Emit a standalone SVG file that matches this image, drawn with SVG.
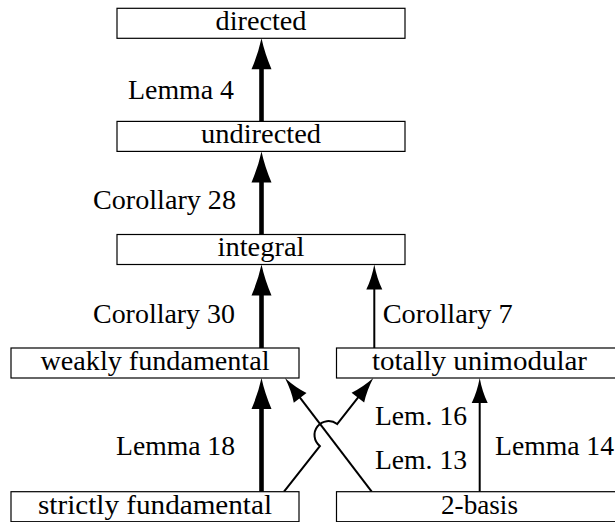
<svg xmlns="http://www.w3.org/2000/svg" width="615" height="522" viewBox="0 0 615 522">
  <style>
    .box { fill: #ffffff; stroke: #000000; stroke-width: 1.2; }
    .t { font-family: "Liberation Serif", "Times New Roman", serif; font-size: 27px; fill: #000000; }
    .c { text-anchor: middle; }
    .thick { fill: none; stroke: #000000; stroke-width: 4.6; marker-end: url(#headThick); }
    .thin { fill: none; stroke: #000000; stroke-width: 2; marker-end: url(#headThin); }
  </style>
  <defs>
    <marker id="headThick" markerUnits="userSpaceOnUse" orient="auto" refX="0" refY="0" markerWidth="40" markerHeight="30" overflow="visible">
      <path d="M10,0 Q-5,3.2 -21,10 L-21,-10 Q-5,-3.2 10,0 Z" fill="#000000"/>
    </marker>
    <marker id="headThin" markerUnits="userSpaceOnUse" orient="auto" refX="0" refY="0" markerWidth="34" markerHeight="24" overflow="visible">
      <path d="M8,0 Q-6,2.6 -17,8 L-17,-8 Q-6,-2.6 8,0 Z" fill="#000000"/>
    </marker>
  </defs>

  <g id="connectors">
    <line class="thick" x1="261.5" y1="121.4" x2="261.5" y2="48.3"/>
    <line class="thick" x1="261.5" y1="234.5" x2="261.5" y2="161.4"/>
    <line class="thick" x1="261.5" y1="348" x2="261.5" y2="274.5"/>
    <line class="thick" x1="261.5" y1="491.7" x2="261.5" y2="388"/>
    <line class="thin" x1="374.3" y1="348" x2="374.3" y2="272.5"/>
    <line class="thin" x1="479.7" y1="491.7" x2="479.7" y2="386"/>
    <path class="thin" d="M371.7,491.7 L289.85,384.36"/>
    <path class="thin" d="M284,491.7 L319.85,446.06 A14,14 0 0 1 337.15,424.04 L368.36,384.29"/>
  </g>

  <g id="labels">
    <text class="t" x="128" y="99.3" textLength="106" lengthAdjust="spacingAndGlyphs">Lemma 4</text>
    <text class="t" x="93" y="209.3" textLength="143" lengthAdjust="spacingAndGlyphs">Corollary 28</text>
    <text class="t" x="93" y="323.3" textLength="142" lengthAdjust="spacingAndGlyphs">Corollary 30</text>
    <text class="t" x="382.7" y="323.3" textLength="130" lengthAdjust="spacingAndGlyphs">Corollary 7</text>
    <text class="t" x="116" y="455" textLength="119" lengthAdjust="spacingAndGlyphs">Lemma 18</text>
    <text class="t" x="375" y="425" textLength="92" lengthAdjust="spacingAndGlyphs">Lem. 16</text>
    <text class="t" x="375" y="468.5" textLength="92" lengthAdjust="spacingAndGlyphs">Lem. 13</text>
    <text class="t" x="495" y="455" textLength="119" lengthAdjust="spacingAndGlyphs">Lemma 14</text>
  </g>

  <g id="directed">
    <rect class="box" x="117" y="8.3" width="288" height="30"/>
    <text class="t c" x="261" y="30" textLength="91" lengthAdjust="spacingAndGlyphs">directed</text>
  </g>
  <g id="undirected">
    <rect class="box" x="117" y="121.4" width="288" height="30"/>
    <text class="t c" x="261" y="143.1" textLength="120" lengthAdjust="spacingAndGlyphs">undirected</text>
  </g>
  <g id="integral">
    <rect class="box" x="117" y="234.5" width="288" height="30"/>
    <text class="t c" x="261" y="256.2" textLength="87" lengthAdjust="spacingAndGlyphs">integral</text>
  </g>
  <g id="weakly-fundamental">
    <rect class="box" x="11" y="348" width="288" height="30"/>
    <text class="t c" x="155" y="369.7" textLength="229" lengthAdjust="spacingAndGlyphs">weakly fundamental</text>
  </g>
  <g id="totally-unimodular">
    <rect class="box" x="336.5" y="348" width="288" height="30"/>
    <text class="t c" x="479.5" y="369.7" textLength="215" lengthAdjust="spacingAndGlyphs">totally unimodular</text>
  </g>
  <g id="strictly-fundamental">
    <rect class="box" x="11" y="491.7" width="288" height="30"/>
    <text class="t c" x="155" y="514" textLength="234" lengthAdjust="spacingAndGlyphs">strictly fundamental</text>
  </g>
  <g id="two-basis">
    <rect class="box" x="336.5" y="491.7" width="288" height="30"/>
    <text class="t c" x="479.5" y="514" textLength="77" lengthAdjust="spacingAndGlyphs">2-basis</text>
  </g>
</svg>
